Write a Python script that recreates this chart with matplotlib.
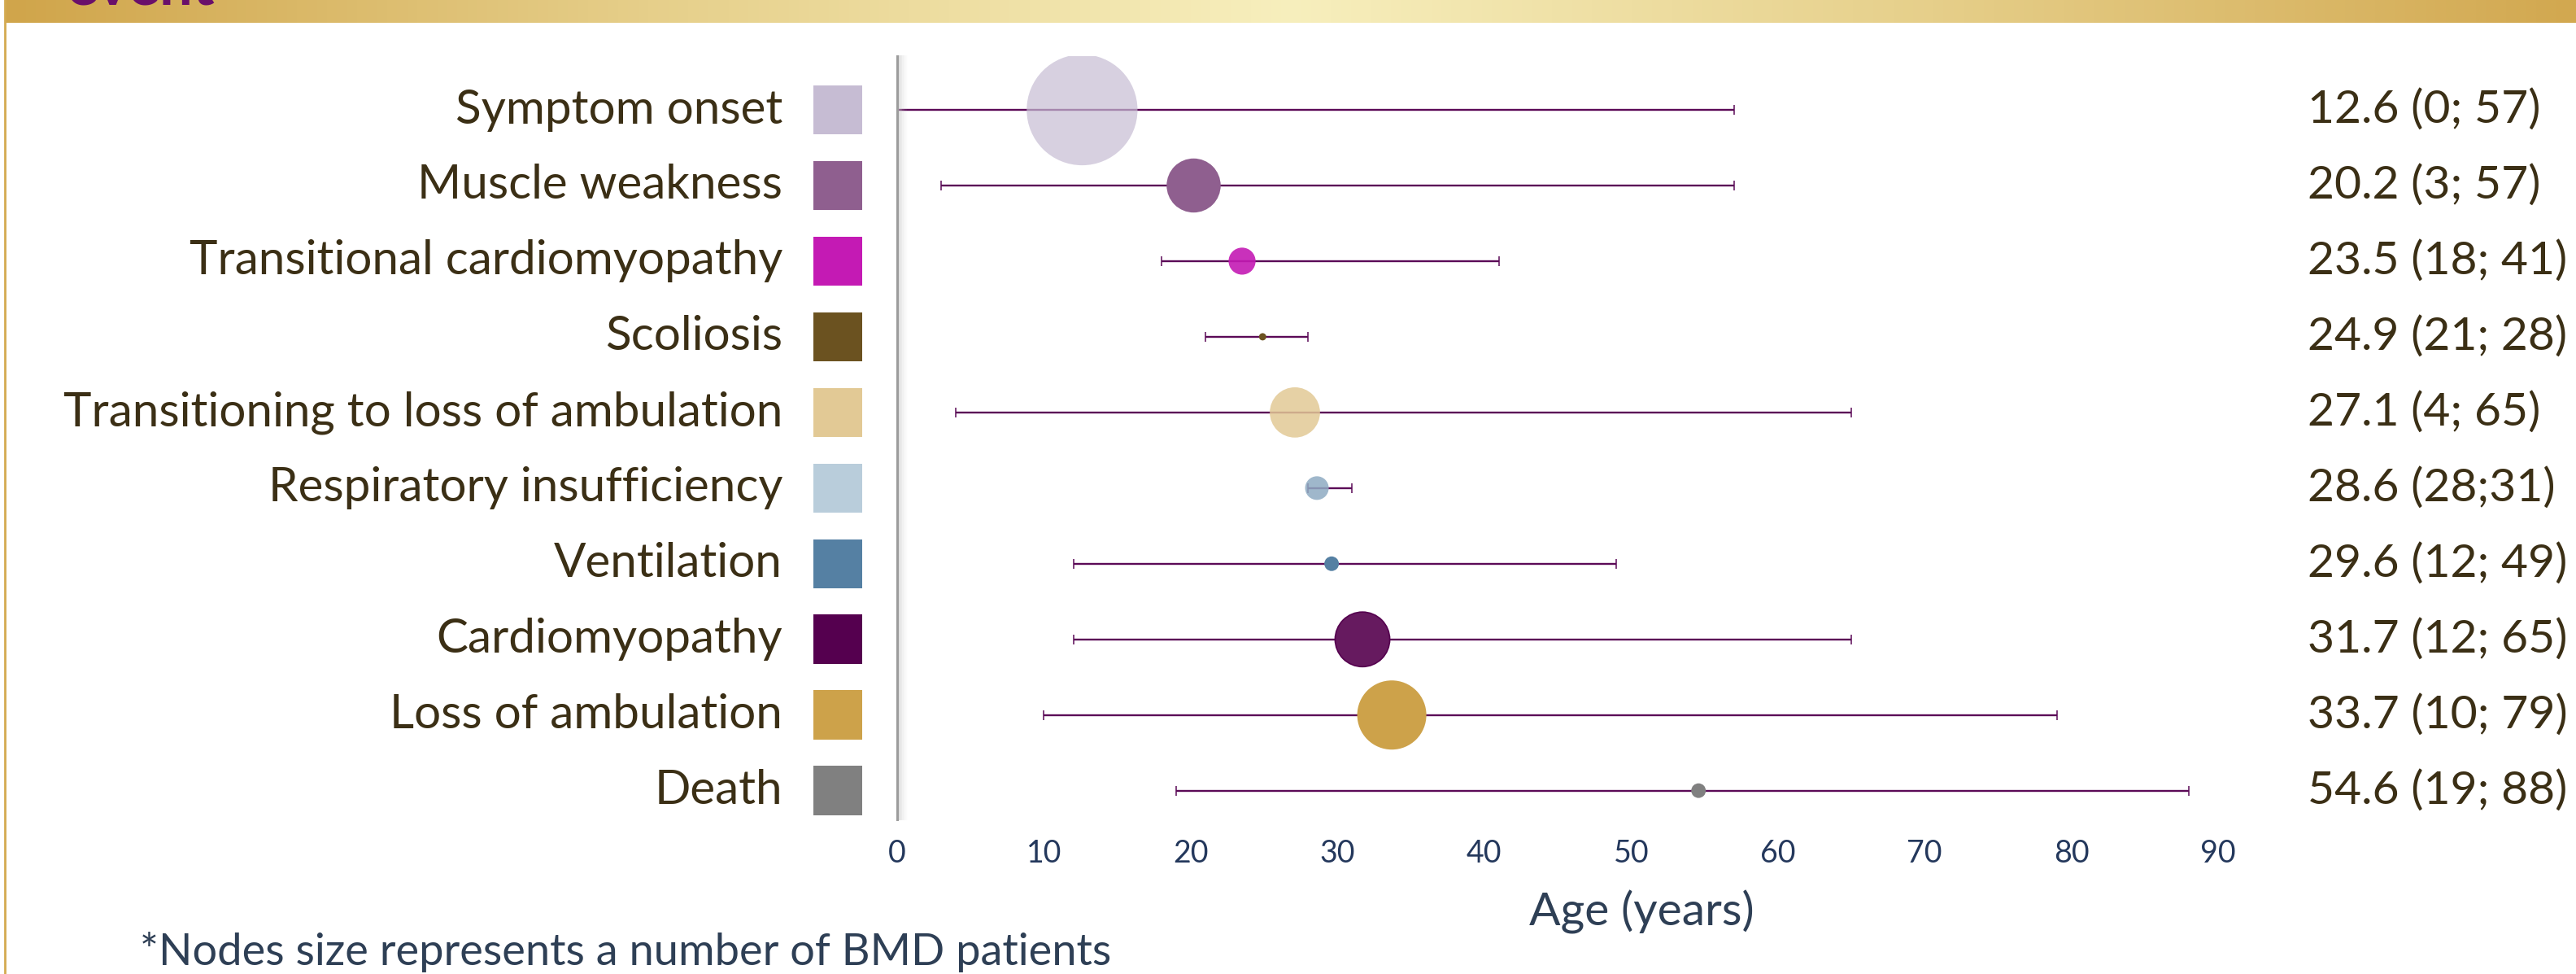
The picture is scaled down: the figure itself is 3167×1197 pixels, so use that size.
import numpy as np
import matplotlib
matplotlib.use("Agg")
import matplotlib.pyplot as plt
from matplotlib.colors import LinearSegmentedColormap
from matplotlib.lines import Line2D
from matplotlib.transforms import ScaledTranslation, blended_transform_factory

# data
events = ["Symptom onset", "Muscle weakness", "Transitional cardiomyopathy", "Scoliosis",
          "Transitioning to loss of ambulation", "Respiratory insufficiency", "Ventilation",
          "Cardiomyopathy", "Loss of ambulation", "Death"]
mean_age = [12.6, 20.2, 23.5, 24.9, 27.1, 28.6, 29.6, 31.7, 33.7, 54.6]
min_age = [0, 3, 18, 21, 4, 28, 12, 12, 10, 19]
max_age = [57, 57, 41, 28, 65, 31, 49, 65, 79, 88]
range_text = ["12.6 (0; 57)", "20.2 (3; 57)", "23.5 (18; 41)", "24.9 (21; 28)", "27.1 (4; 65)",
              "28.6 (28;31)", "29.6 (12; 49)", "31.7 (12; 65)", "33.7 (10; 79)", "54.6 (19; 88)"]
# relative number of patients (node area)
patients = [185, 44, 11, 0.8, 38, 8.4, 3.2, 45, 72, 3.2]

key_colors = ['#c6bcd3', '#8f5f8f', '#c41ab4', '#6b5220', '#e2c995',
              '#b9cddb', '#5580a3', '#55004f', '#cda24a', '#808080']
node_colors = ['#c6bcd3', '#8f5f8f', '#c41ab4', '#6b5220', '#e2c995',
               '#8eabc2', '#5580a3', '#661a5f', '#cda24a', '#808080']
node_alpha = [0.7, 1, 0.9, 1, 0.85, 0.85, 1, 1, 1, 1]

W, H = 3167, 1197
fig = plt.figure(figsize=(W / 100, H / 100), dpi=100)
plt.rcParams['font.family'] = ['Lato', 'DejaVu Sans']

# gold banner at top
bax = fig.add_axes([7 / W, 1 - 28 / H, 1 - 7 / W, 28 / H])
gold = LinearSegmentedColormap.from_list("gold", ['#d0a54b', '#e6cf8a', '#f7efbd', '#e6cf8a', '#d2a850'])
bax.imshow(np.linspace(0, 1, 512)[None, :], cmap=gold, aspect='auto')
bax.axis('off')
fig.text(82 / W, 1 - 6 / H, "event", color='#6a0f6a', fontsize=52, fontweight='bold', va='baseline')
fig.add_artist(Line2D([6 / W, 6 / W], [0, 1], color='#d4aa50', lw=2))

ax = fig.add_axes([1103 / W, 1 - 1007 / H, 1624 / W, 938 / H])
y = np.arange(len(events))

xerr = [np.array(mean_age) - np.array(min_age), np.array(max_age) - np.array(mean_age)]
ax.errorbar(mean_age, y, xerr=xerr, fmt='none', ecolor='#5b0a57', elinewidth=1.7,
            capsize=4.3, capthick=1.1, zorder=2)
sizes = np.array(patients) * 52
ax.scatter(mean_age, y, s=sizes, c=node_colors, alpha=node_alpha, linewidths=0, zorder=3)
ax.scatter([mean_age[7]], [y[7]], s=sizes[7], facecolors='none', edgecolors='#55004f',
           linewidths=1.2, zorder=4)

ax.set_xlim(0, 90)
ax.set_ylim(9.38, -0.71)
ax.set_xticks(range(0, 91, 10))
ax.set_yticks([])
ax.tick_params(axis='x', length=0, pad=17, labelsize=27, labelcolor='#24385c')
for s in ['top', 'right', 'bottom']:
    ax.spines[s].set_visible(False)
ax.spines['left'].set_color('#9c9c9c')
ax.spines['left'].set_linewidth(2.2)
ax.spines['left'].set_zorder(5)
# soft shadow right of the axis line
for i, a in enumerate([0.5, 0.35, 0.22, 0.12, 0.06]):
    tr = ax.transAxes + ScaledTranslation((3 + 2 * i) / 100, 0, fig.dpi_scale_trans)
    ax.add_line(Line2D([0, 0], [0, 1], transform=tr, color='#c8c8c8', alpha=a, lw=1.5, clip_on=False))

bt = blended_transform_factory(ax.transAxes, ax.transData)
ax.scatter([-0.045] * len(events), y, marker='s', s=1900, c=key_colors, linewidths=0,
           transform=bt, clip_on=False)
for yi, name, txt in zip(y, events, range_text):
    ax.text(-0.0868, yi, name, transform=bt, ha='right', va='center', fontsize=42, color='#3b2f15')
    ax.text(1.0677, yi, txt, transform=bt, ha='left', va='center', fontsize=41, color='#3b2f15')

fig.text(2018 / W, 1 - 1121 / H, "Age (years)", ha='center', va='center', fontsize=41, color='#2e3f55')
fig.text(172 / W, 1 - 1170 / H, "*Nodes size represents a number of BMD patients",
         ha='left', va='center', fontsize=39, color='#2e3f55')

fig.savefig("out.png", dpi=100)
